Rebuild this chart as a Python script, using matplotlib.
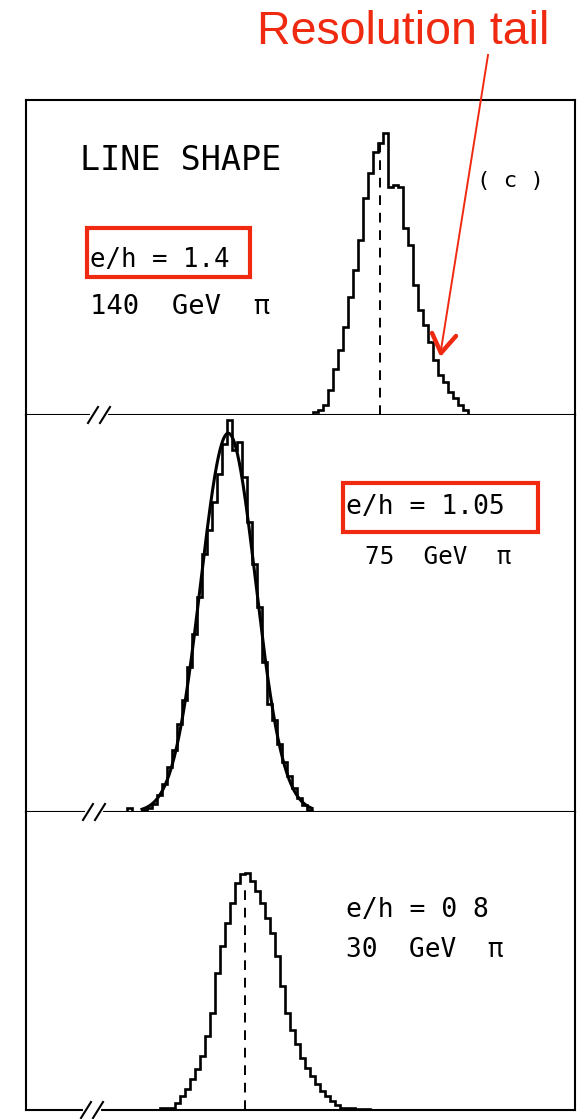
# line_shape.py — three stacked pion line-shape histograms (e/h = 1.4, 1.05, 0.8)
# Saves: out.png

import numpy as np
import matplotlib.pyplot as plt
from matplotlib.lines import Line2D
from matplotlib.patches import Rectangle

W, H = 577, 1119
BIN = 5  # channel width

# e/h = 1.4, 140 GeV pi
start_a = 313
counts_a = [3, 5, 10, 25, 46, 65, 88, 118, 145, 175, 217, 242, 263, 272, 282,
            228, 230, 228, 187, 170, 130, 105, 90, 73, 55, 40, 33, 23, 17, 10, 5]
peak_a = 380

# e/h = 1.05, 75 GeV pi (histogram + gaussian fit)
start_b = 127
counts_b = [4, 0, 0, 2, 4, 8, 17, 28, 45, 62, 88, 112, 145, 178, 215, 258, 282,
            310, 338, 368, 392, 362, 370, 335, 290, 248, 205, 150, 108, 92, 68,
            50, 36, 24, 14, 7, 2]

# e/h = 0.8, 30 GeV pi
start_c = 160
counts_c = [2, 2, 2, 7, 14, 21, 31, 41, 54, 74, 97, 137, 164, 187, 207, 227, 236,
            237, 229, 219, 207, 192, 177, 154, 124, 97, 80, 66, 52, 42, 34, 26,
            19, 14, 9, 5, 2, 2, 2, 1, 1, 1]
peak_c = 245

RED = "#f02a10"
MONO = "DejaVu Sans Mono"


def px(x, y):
    # pixel position -> figure fraction
    return x / W, 1 - y / H


fig = plt.figure(figsize=(W / 100, H / 100), dpi=100)

# panel rows in pixels (top, bottom)
rows = [(100, 415), (415, 812), (812, 1110)]
left, right = 26, 575
axes = []
for top, bot in rows:
    ax = fig.add_axes([left / W, 1 - bot / H, (right - left) / W, (bot - top) / H])
    ax.set_xlim(left, right)
    ax.set_ylim(0, bot - top)
    ax.set_xticks([])
    ax.set_yticks([])
    for s in ax.spines.values():
        s.set_linewidth(1.5)
    axes.append(ax)
axes[1].spines["top"].set_visible(False)
axes[2].spines["top"].set_visible(False)

hist_kw = dict(color="black", lw=1.9)

# panel a
ax = axes[0]
edges = start_a + BIN * np.arange(len(counts_a) + 1)
ax.stairs(counts_a, edges, **hist_kw)
ax.plot([peak_a, peak_a], [0, 273], color="black", lw=1.4, ls=(0, (5, 4)))

# panel b
ax = axes[1]
edges = start_b + BIN * np.arange(len(counts_b) + 1)
ax.stairs(counts_b, edges, **hist_kw)
cb = np.array(counts_b, float)
centres = 0.5 * (edges[:-1] + edges[1:])
mu = np.average(centres, weights=cb)
sig = np.sqrt(np.average((centres - mu) ** 2, weights=cb))
amp = cb.sum() * BIN / (sig * np.sqrt(2 * np.pi))
xf = np.linspace(start_b + 15, edges[-1], 300)
ax.plot(xf, amp * np.exp(-0.5 * ((xf - mu) / sig) ** 2), color="black", lw=2.2)

# panel c
ax = axes[2]
edges = start_c + BIN * np.arange(len(counts_c) + 1)
ax.stairs(counts_c, edges, **hist_kw)
ax.plot([peak_c, peak_c], [0, 226], color="black", lw=1.4, ls=(0, (5, 4)))

# axis break marks "//" on each baseline
for yb, x0 in [(415, 93), (812, 88), (1110, 86)]:
    fig.add_artist(Line2D(*zip(px(x0 - 1, yb), px(x0 + 13, yb)), color="white",
                          lw=3, zorder=5))
    for xs in (x0, x0 + 12):
        fig.add_artist(Line2D(*zip(px(xs - 5, yb + 8), px(xs + 5, yb - 8)),
                              color="black", lw=1.5, zorder=6))

# labels
fig.text(*px(80, 160), "LINE SHAPE", family=MONO, fontsize=24, va="center")
fig.text(*px(90, 260), "e/h = 1.4", family=MONO, fontsize=18.5, va="center")
fig.text(*px(90, 307), "140  GeV  π", family=MONO, fontsize=19.5, va="center")
fig.text(*px(510, 181), "( c )", family=MONO, fontsize=16, va="center", ha="center")
fig.text(*px(346, 507), "e/h = 1.05", family=MONO, fontsize=19, va="center")
fig.text(*px(365, 557), "75  GeV  π", family=MONO, fontsize=17.5, va="center")
fig.text(*px(346, 910), "e/h = 0 8", family=MONO, fontsize=19, va="center")
fig.text(*px(346, 950), "30  GeV  π", family=MONO, fontsize=18.8, va="center")

# red highlight boxes
for x0, y0, x1, y1 in [(87, 228, 250, 277), (343, 483, 538, 532)]:
    fx0, fy1 = px(x0, y1)
    fx1, fy0 = px(x1, y0)
    fig.add_artist(Rectangle((fx0, fy1), fx1 - fx0, fy0 - fy1, fill=False,
                             edgecolor=RED, lw=3, zorder=10))

# red annotation
fig.text(*px(403, 32), "Resolution tail", family="Liberation Sans", fontsize=33.5,
         color=RED, ha="center", va="center")
fig.add_artist(Line2D(*zip(px(488, 55), px(441, 350)), color=RED, lw=1.4, zorder=10))
for leg in [(432, 333), (456, 336)]:
    fig.add_artist(Line2D(*zip(px(*leg), px(441, 353)), color=RED, lw=3.2,
                          solid_capstyle="round", zorder=10))

fig.savefig("out.png", dpi=100)
